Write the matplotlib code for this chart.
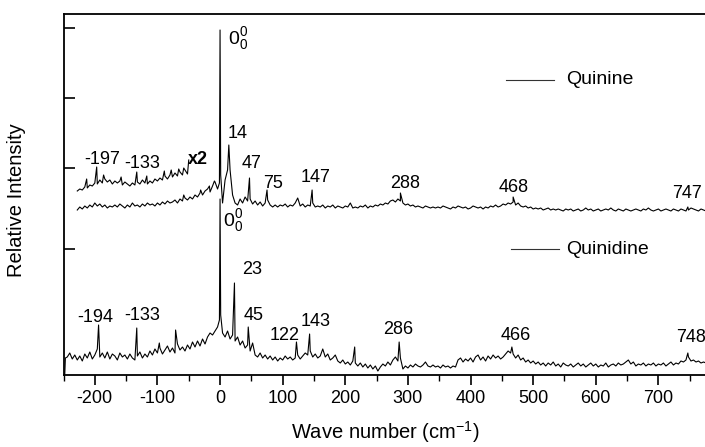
import numpy as np
import matplotlib
matplotlib.use("Agg")
from matplotlib import pyplot as plt

plt.rcParams["font.family"] = ["Liberation Sans", "DejaVu Sans"]
plt.rcParams["axes.unicode_minus"] = False
plt.rcParams["mathtext.fontset"] = "custom"
plt.rcParams["mathtext.rm"] = "Liberation Sans"
plt.rcParams["mathtext.it"] = "Liberation Sans"

# Quinine trace, sampled every 4 cm-1 from -228
quinine_start = -228
quinine_y = [
    165, 168, 166, 169, 167, 170, 168, 172, 169, 171, 168, 170, 167, 169, 168, 170,
    168, 171, 169, 167, 170, 168, 172, 169, 170, 168, 171, 169, 172, 170, 171, 169,
    172, 170, 173, 171, 174, 172, 173, 175, 172, 176, 174, 177, 175, 178, 176, 180,
    178, 182, 180, 184, 186, 183, 189, 193, 186, 345, 172, 195, 205, 205, 180, 172,
    170, 176, 172, 178, 174, 176, 171, 174, 170, 173, 169, 172, 175, 170, 168, 170,
    168, 170, 169, 171, 168, 170, 169, 172, 177, 169, 171, 168, 170, 169, 172, 168,
    169, 168, 170, 167, 169, 168, 170, 167, 169, 168, 167, 169, 168, 172, 167, 168,
    167, 169, 168, 170, 167, 169, 168, 170, 169, 171, 170, 172, 171, 174, 175, 173,
    176, 174, 172, 170, 171, 169, 170, 168, 169, 168, 167, 169, 168, 167, 168, 167,
    168, 167, 169, 168, 167, 166, 168, 167, 169, 168, 167, 168, 166, 167, 169, 168,
    167, 168, 166, 168, 167, 169, 168, 170, 168, 169, 171, 170, 172, 171, 173, 170,
    172, 169, 168, 169, 167, 168, 166, 167, 166, 167, 165, 166, 167, 165, 166, 165,
    166, 165, 164, 166, 165, 166, 164, 165, 166, 164, 165, 167, 165, 166, 164, 165,
    166, 164, 165, 166, 165, 167, 165, 164, 166, 165, 164, 166, 165, 164, 165, 166,
    165, 164, 166, 165, 167, 165, 164, 165, 166, 164, 165, 166, 165, 164, 166, 165,
    164, 166, 165, 164, 165, 167, 166, 165, 164, 166, 165, 164,
]
quinine_peak_x = [-58, -31, -17, -9, -1, 1, 14, 47, 75, 147, 288, 468, 747]
quinine_peak_y = [180, 185, 189, 194, 192, 200, 230, 197, 185, 185, 182, 178, 168]

# x2 magnified part of the Quinine trace
x2_start = -228
x2_y = [
    184, 186, 185, 188, 187, 190, 189, 192, 191, 195, 192, 196, 193, 195, 191, 194,
    192, 194, 190, 193, 191, 189, 192, 190, 193, 191, 195, 192, 191, 194, 192, 196,
    194, 197, 195, 199, 196, 200, 198, 202, 199, 203, 200, 205, 201,
]
x2_peak_x = [-213, -197, -186, -158, -133, -117, -89, -78, -66, -58, -50]
x2_peak_y = [196, 208, 200, 198, 203, 199, 204, 205, 206, 207, 215]

# Quinidine trace, sampled every 4 cm-1 from -244
quinidine_start = -244
quinidine_y = [
    18, 22, 16, 20, 15, 19, 14, 21, 17, 23, 16, 20, 26, 18, 22, 17,
    23, 16, 21, 19, 15, 22, 18, 20, 16, 21, 17, 15, 19, 23, 17, 21,
    18, 24, 20, 26, 22, 27, 21, 25, 29, 23, 27, 22, 31, 25, 28, 24,
    30, 26, 33, 28, 34, 29, 36, 31, 38, 42, 40, 44, 48, 176, 42, 38,
    44, 36, 40, 34, 38, 30, 34, 27, 30, 24, 32, 20, 18, 22, 17, 20,
    16, 19, 15, 18, 14, 17, 15, 19, 16, 18, 15, 17, 20, 16, 19, 22,
    20, 24, 18, 21, 17, 19, 26, 18, 21, 15, 17, 20, 14, 12, 15, 11,
    13, 10, 14, 12, 9, 12, 8, 11, 7, 10, 6, 9, 4, 8, 11, 9,
    13, 10, 15, 18, 14, 17, 6, 9, 7, 10, 8, 11, 9, 8, 10, 13,
    9, 8, 10, 8, 9, 7, 10, 8, 9, 7, 9, 8, 15, 17, 13, 16,
    14, 17, 13, 18, 20, 15, 18, 14, 19, 16, 20, 17, 19, 16, 18, 21,
    24, 22, 21, 17, 20, 15, 17, 13, 15, 12, 14, 11, 13, 10, 12, 9,
    12, 10, 13, 9, 11, 8, 12, 10, 9, 11, 8, 10, 12, 9, 11, 8,
    10, 12, 9, 11, 8, 10, 9, 12, 8, 10, 11, 9, 12, 10, 11, 13,
    15, 11, 13, 9, 11, 10, 12, 9, 11, 10, 12, 9, 11, 10, 12, 9,
    11, 13, 10, 12, 11, 14, 13, 15, 18, 14, 15, 13, 14, 12, 13, 12,
]
quinidine_peak_x = [-248, -247, -194, -133, -97, -71, -1, 1, 23, 45, 122, 143, 215, 286, 466, 747]
quinidine_peak_y = [0, 17, 50, 47, 32, 45, 55, 60, 92, 48, 33, 41, 28, 33, 28, 22]

quinine_labels = ["-197", "-133", "14", "47", "75", "147", "288", "468", "747"]
quinine_label_x = [-189, -125, 28, 50, 85, 152, 295, 469, 745]
quinine_label_y = [215, 211, 241, 212, 192, 197, 191, 187, 181]

quinidine_labels = ["-194", "-133", "23", "45", "122", "143", "286", "466", "748"]
quinidine_label_x = [-199, -124, 52, 54, 103, 152, 285, 472, 752]
quinidine_label_y = [58, 59, 106, 59, 39, 53, 46, 40, 37]


def trace(start, ys, px, py):
    x = list(start + 4 * np.arange(len(ys))) + list(px)
    y = list(ys) + list(py)
    order = np.argsort(x, kind="stable")
    return np.array(x)[order], np.array(y)[order]


fig = plt.figure(figsize=(7.05, 4.47), dpi=100)
ax = fig.add_axes([63.5 / 705, 72 / 447, 642.5 / 705, 361 / 447])

for start, ys, px, py in [
    (quinine_start, quinine_y, quinine_peak_x, quinine_peak_y),
    (x2_start, x2_y, x2_peak_x, x2_peak_y),
    (quinidine_start, quinidine_y, quinidine_peak_x, quinidine_peak_y),
]:
    x, y = trace(start, ys, px, py)
    ax.plot(x, y, color="black", linewidth=0.8)

for t, x, y in zip(quinine_labels, quinine_label_x, quinine_label_y):
    ax.text(x, y, t, fontsize=13, ha="center", va="center")
for t, x, y in zip(quinidine_labels, quinidine_label_x, quinidine_label_y):
    ax.text(x, y, t, fontsize=13, ha="center", va="center")
ax.text(-36, 216, "x2", fontsize=13, fontweight="bold", ha="center", va="center")
ax.text(12, 336, r"$0_0^0$", fontsize=14, ha="left", va="center")
ax.text(5, 154, r"$0_0^0$", fontsize=14, ha="left", va="center")

# legend keys
ax.plot([456, 533], [295, 295], color="#333333", linewidth=0.8)
ax.text(552, 295, "Quinine", fontsize=14, va="center")
ax.plot([464, 541], [126, 126], color="#333333", linewidth=0.8)
ax.text(552, 126, "Quinidine", fontsize=14, va="center")

ax.set_xlim(-250, 776)
ax.set_ylim(0, 361)
ax.set_xticks(np.arange(-200, 701, 100))
ax.set_xticks(np.arange(-250, 776, 50), minor=True)
ax.set_yticks([126, 207, 277, 347])
ax.set_yticklabels([])
ax.tick_params(axis="x", which="major", direction="out", length=7, width=1.2, labelsize=13, top=False)
ax.tick_params(axis="x", which="minor", direction="out", length=4, width=1.0, top=False)
ax.tick_params(axis="y", direction="in", length=8, width=1.2, right=False)
for s in ax.spines.values():
    s.set_linewidth(1.3)

ax.set_xlabel("Wave number (cm$^{-1}$)", fontsize=14.5)
ax.set_ylabel("Relative Intensity", fontsize=14.5)
ax.xaxis.set_label_coords(0.5 + 1 / 642.5, -44 / 361)
ax.yaxis.set_label_coords(-37 / 642.5, 0.485)

fig.savefig("out.png", dpi=100)
